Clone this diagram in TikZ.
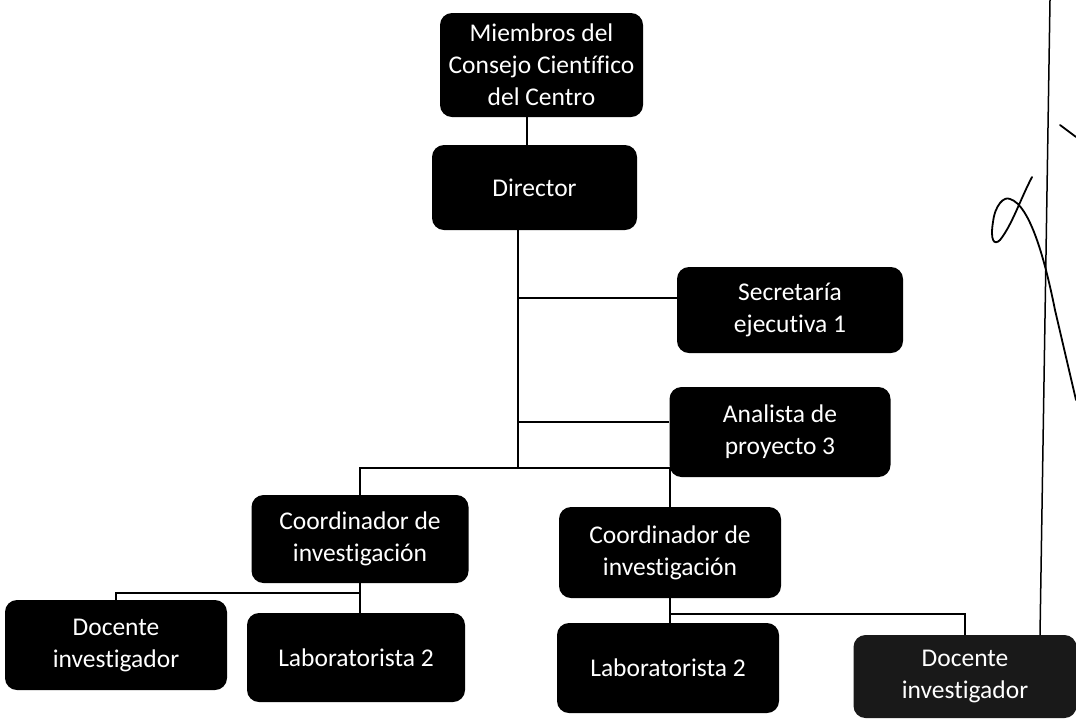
\documentclass[tikz,border=0pt]{standalone}
\usepackage{fontspec}
\setmainfont[Ligatures=NoCommon]{Carlito}
\begin{document}
\begin{tikzpicture}[x=1pt,y=-1pt,
  orgbox/.style={fill=black, rounded corners=12pt, text=white, align=center,
    inner sep=0pt, font=\fontsize{25.5}{32}\selectfont},
  link/.style={draw=black, line width=1.5pt},
  ink/.style={draw=black, line width=1.8pt, line cap=round}]
\useasboundingbox (0,0) rectangle (1076,724);
\fill[white] (0,0) rectangle (1076,724);

\node[orgbox, minimum width=203pt, minimum height=104pt] (m) at (541.5,65) {Miembros del\\Consejo Científico\\del Centro};
\node[orgbox, minimum width=205pt, minimum height=85pt] (d) at (534.5,187.5) {Director};
\node[orgbox, minimum width=226pt, minimum height=86pt] (s) at (790,310) {Secretaría\\ejecutiva 1};
\node[orgbox, minimum width=221pt, minimum height=90pt] (a) at (780,432) {Analista de\\proyecto 3};
\node[orgbox, minimum width=217pt, minimum height=88pt] (cl) at (360,539) {Coordinador de\\investigación};
\node[orgbox, minimum width=222pt, minimum height=91pt] (cr) at (670,552.5) {Coordinador de\\investigación};
\node[orgbox, minimum width=222pt, minimum height=90pt] (dl) at (116,645) {Docente\\investigador};
\node[orgbox, minimum width=218pt, minimum height=89pt] (ll) at (356,657.5) {Laboratorista 2};
\node[orgbox, minimum width=222pt, minimum height=90pt] (lr) at (668,668) {Laboratorista 2};
\node[orgbox, fill=black!90, minimum width=223pt, minimum height=83pt] (dr) at (965,676.5) {Docente\\investigador};

% trunk coordinates
\coordinate (mx) at (527,0);
\coordinate (t1) at (518,298);
\coordinate (t2) at (518,422);
\coordinate (t3) at (518,468);
\coordinate (b1) at (0,593);
\coordinate (b2) at (0,614);

\draw[link] (m.south -| mx) -- (d.north -| mx);
\draw[link] (d.south -| t1) -- (t3);
\draw[link] (t1) -- (s.west |- t1);
\draw[link] (t2) -- (a.west |- t2);
\draw[link] (cl.north) -- (cl.north |- t3) -- (cr.north |- t3) -- (cr.north);
\draw[link] (cl.south) -- (cl.south |- ll.north);
\draw[link] (dl.north) -- (dl.north |- b1) -- (cl.south |- b1);
\draw[link] (cr.south) -- (cr.south |- lr.north);
\draw[link] (cr.south |- b2) -- (dr.north |- b2) -- (dr.north);

% right margin line and signature
\draw[link] (1050,0) -- (1040,635);
\draw[ink] (1060,125) -- (1076,137);
\draw[ink] (1032,177) .. controls (1020,200) and (1012,225) .. (1000,240)
  .. controls (994,246) and (990,240) .. (993,222)
  .. controls (995,205) and (1004,196) .. (1010,199)
  .. controls (1030,205) and (1045,260) .. (1055,310)
  -- (1076,400);
\end{tikzpicture}
\end{document}
